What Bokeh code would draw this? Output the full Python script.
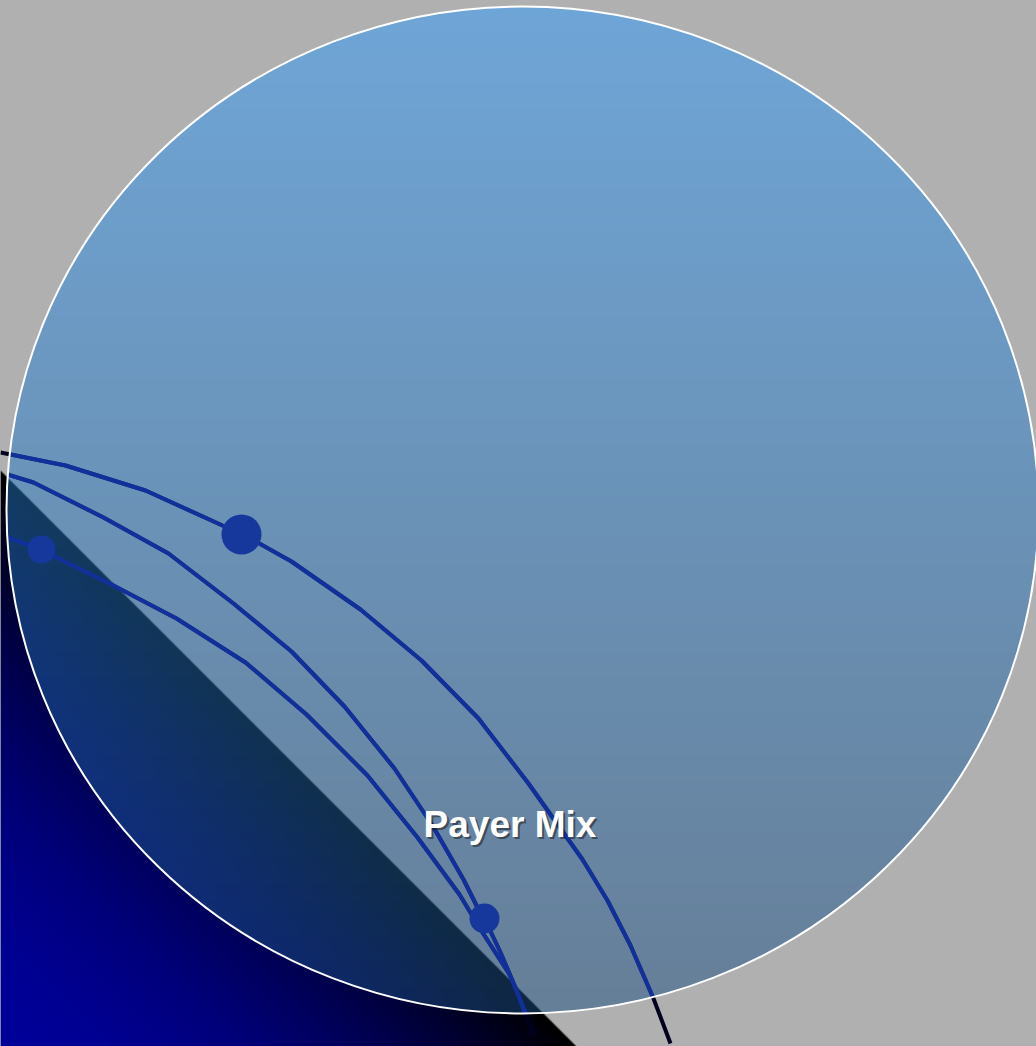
import numpy as np
from bokeh.plotting import figure
from bokeh.models import Range1d, GlobalInlineStyleSheet
from bokeh.embed import file_html
from bokeh.resources import INLINE
from bokeh.core.properties import value

# ---------------- data (pixel coordinates, y downward) -------------
title = "Payer Mix"

curve1_x = [0, 65, 145, 222, 241, 291, 360, 421, 478, 528, 582, 607, 630, 653, 670]
curve1_y = [452, 465, 490, 525, 533, 561, 609, 660, 718, 783, 859, 900, 945, 998, 1043]

curve2_x = [7, 33, 103, 168, 233, 291, 344, 394, 432, 463, 478, 484, 500, 517, 532]
curve2_y = [474, 482, 517, 553, 603, 651, 706, 768, 825, 879, 909, 918, 952, 992, 1035]

curve3_x = [7, 41, 60, 111, 176, 245, 306, 367, 417, 459, 482, 509, 522, 535]
curve3_y = [537, 549, 559, 584, 618, 662, 714, 775, 837, 894, 932, 974, 1005, 1035]

dots_x = [241, 41, 484]
dots_y = [534, 549, 918]
dots_r = [20, 14, 15]

# big ellipse (center / radii) and triangle
ell_cx, ell_cy, ell_rx, ell_ry = 522.0, 509.5, 516.0, 503.5
tri_x = [0, 0, 576]
tri_y = [470, 1046, 1046]

W, H = 1036, 1046
BG = "#b0b0b0"

p = figure(width=W, height=H, output_backend="svg", toolbar_location=None,
           x_range=Range1d(0, W), y_range=Range1d(H, 0), min_border=0,
           background_fill_color=BG, border_fill_color=BG, outline_line_color=None)
p.axis.visible = False
p.grid.visible = False
p.stylesheets = [GlobalInlineStyleSheet(css="html, body {margin:0 !important; padding:0; background:#b0b0b0; overflow:hidden;}")]


def rgba_image(r, g, b, a):
    h, w = r.shape
    img = np.empty((h, w), dtype=np.uint32)
    v = img.view(dtype=np.uint8).reshape((h, w, 4))
    v[..., 0] = np.clip(r, 0, 255).astype(np.uint8)
    v[..., 1] = np.clip(g, 0, 255).astype(np.uint8)
    v[..., 2] = np.clip(b, 0, 255).astype(np.uint8)
    v[..., 3] = np.clip(a * 255, 0, 255).astype(np.uint8)
    return img


# ---- triangle (black along the hypotenuse -> #000099 towards the corner)
tx0, tx1 = min(tri_x), max(tri_x)
ty0, ty1 = min(tri_y), max(tri_y)
tw, th = tx1 - tx0, ty1 - ty0
X, Y = np.meshgrid(tx0 + 0.5 + np.arange(tw), ty0 + 0.5 + np.arange(th))
sd = ((Y - ty0) - (X - tx0) * th / tw) / np.sqrt(2)
ta = np.clip(sd + 0.5, 0, 1)
s = np.clip(((X - tx0) + (ty1 - Y)) / tw, 0, 1)
blue = 153 * (1 - s ** 1.8)
tri_img = rgba_image(np.zeros_like(blue), np.zeros_like(blue), blue, ta)
p.image_rgba(image=[tri_img], x=tx0, y=ty0, dw=tw, dh=th)

# ---- curves: dark layer (visible outside the ellipse)
xs_all = [curve1_x, curve2_x, curve3_x]
ys_all = [curve1_y, curve2_y, curve3_y]
p.multi_line(xs=xs_all, ys=ys_all, line_color="#00001c", line_width=4)

# ---- ellipse with vertical gradient, half transparent
ex0 = int(np.floor(ell_cx - ell_rx)) - 1
ey0 = int(np.floor(ell_cy - ell_ry)) - 1
ew = int(np.ceil(2 * ell_rx)) + 3
eh = int(np.ceil(2 * ell_ry)) + 3
X, Y = np.meshgrid(ex0 + 0.5 + np.arange(ew), ey0 + 0.5 + np.arange(eh))
e = np.sqrt(((X - ell_cx) / ell_rx) ** 2 + ((Y - ell_cy) / ell_ry) ** 2)
ea = np.clip((1 - e) * ell_ry + 0.5, 0, 1) * 0.5
tt = np.clip((Y - (ell_cy - ell_ry)) / (2 * ell_ry), 0, 1)
top = np.array([46, 156, 255])
bot = np.array([28, 78, 128])
er = top[0] * (1 - tt) + bot[0] * tt
eg = top[1] * (1 - tt) + bot[1] * tt
eb = top[2] * (1 - tt) + bot[2] * tt
ell_img = rgba_image(er, eg, eb, ea)
p.image_rgba(image=[ell_img], x=ex0, y=ey0, dw=ew, dh=eh)


# ---- curves: blue layer, inside the ellipse
def inside(x, y):
    return ((x - ell_cx) / ell_rx) ** 2 + ((y - ell_cy) / ell_ry) ** 2 <= 1


def clip_to_ellipse(xs, ys):
    segs, cx, cy = [], [], []
    for i in range(len(xs)):
        ins = inside(xs[i], ys[i])
        if i > 0:
            pin = inside(xs[i - 1], ys[i - 1])
            if ins != pin:
                a, b = 0.0, 1.0
                for _ in range(40):
                    m = (a + b) / 2
                    px = xs[i - 1] + m * (xs[i] - xs[i - 1])
                    py = ys[i - 1] + m * (ys[i] - ys[i - 1])
                    if inside(px, py) == pin:
                        a = m
                    else:
                        b = m
                cx.append(xs[i - 1] + a * (xs[i] - xs[i - 1]))
                cy.append(ys[i - 1] + a * (ys[i] - ys[i - 1]))
                if pin:
                    segs.append((cx, cy))
                    cx, cy = [], []
        if ins:
            cx.append(xs[i])
            cy.append(ys[i])
    if cx:
        segs.append((cx, cy))
    return segs


bx, by = [], []
for xs, ys in zip(xs_all, ys_all):
    for sx, sy in clip_to_ellipse(xs, ys):
        bx.append(sx)
        by.append(sy)
p.multi_line(xs=bx, ys=by, line_color="#12309c", line_width=4)

# ---- dots
p.circle(x=dots_x, y=dots_y, radius=dots_r, fill_color="#16389c", line_color=None)

# ---- ellipse outline
p.ellipse(x=ell_cx, y=ell_cy, width=2 * ell_rx, height=2 * ell_ry,
          fill_color=None, line_color="white", line_width=2)

# ---- title with shadow
p.text(x=[511.5], y=[825.5], text=[title], text_font=value("Liberation Sans"),
       text_font_style="bold", text_font_size="37px", text_color="#1a1a1a",
       text_alpha=0.55, text_align="center", text_baseline="middle")
p.text(x=[509.5], y=[823.5], text=[title], text_font=value("Liberation Sans"),
       text_font_style="bold", text_font_size="37px", text_color="white",
       text_align="center", text_baseline="middle")

open("out.html", "w").write(file_html(p, INLINE))
